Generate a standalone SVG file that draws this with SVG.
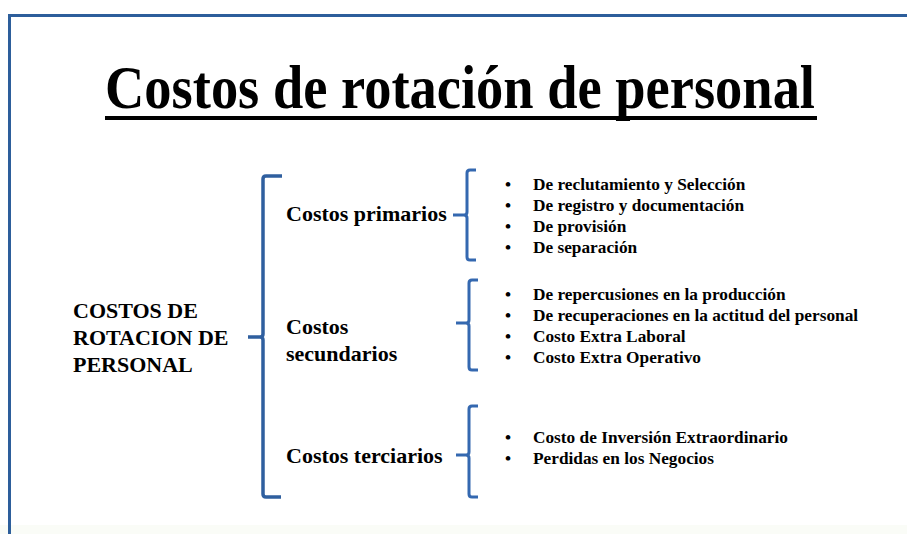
<svg xmlns="http://www.w3.org/2000/svg" width="907" height="534" viewBox="0 0 907 534">
<style>
.t{font-family:"Liberation Serif","Times New Roman",serif;font-weight:bold;fill:#000}
.m{font-size:22px}
.b{font-size:17.3px}
.br{fill:none;stroke:#3468b0;stroke-width:3;stroke-linejoin:round;stroke-linecap:butt}
.big{stroke:#2f5f9f;stroke-width:3.5}
</style>
<rect x="0" y="0" width="907" height="534" fill="#ffffff"/>
<rect x="0" y="525" width="907" height="9" fill="#fafcf7"/>
<g id="frame">
<path d="M9.5 534 V15.5 H907" fill="none" stroke="#2d5e9b" stroke-width="3"/>
</g>
<g id="title">
<text class="t" x="105" y="108" font-size="61" textLength="710" lengthAdjust="spacingAndGlyphs">Costos de rotación de personal</text>
<rect x="105" y="116" width="712" height="4" fill="#000"/>
</g>
<g id="root">
<text class="t m" x="73" y="318">COSTOS DE</text>
<text class="t m" x="73" y="345">ROTACION DE</text>
<text class="t m" x="73" y="372">PERSONAL</text>
</g>
<g id="primarios">
<text class="t m" x="286" y="221">Costos primarios</text>
</g>
<g id="secundarios">
<text class="t m" x="286" y="334">Costos</text>
<text class="t m" x="286" y="361">secundarios</text>
</g>
<g id="terciarios">
<text class="t m" x="286" y="463">Costos terciarios</text>
</g>
<g id="list-primarios">
<text class="t b" x="505" y="190">•</text><text class="t b" x="533" y="190">De reclutamiento y Selección</text>
<text class="t b" x="505" y="211">•</text><text class="t b" x="533" y="211">De registro y documentación</text>
<text class="t b" x="505" y="232">•</text><text class="t b" x="533" y="232">De provisión</text>
<text class="t b" x="505" y="253">•</text><text class="t b" x="533" y="253">De separación</text>
</g>
<g id="list-secundarios">
<text class="t b" x="505" y="300">•</text><text class="t b" x="533" y="300">De repercusiones en la producción</text>
<text class="t b" x="505" y="321">•</text><text class="t b" x="533" y="321">De recuperaciones en la actitud del personal</text>
<text class="t b" x="505" y="342">•</text><text class="t b" x="533" y="342">Costo Extra Laboral</text>
<text class="t b" x="505" y="363">•</text><text class="t b" x="533" y="363">Costo Extra Operativo</text>
</g>
<g id="list-terciarios">
<text class="t b" x="505" y="443">•</text><text class="t b" x="533" y="443">Costo de Inversión Extraordinario</text>
<text class="t b" x="505" y="464">•</text><text class="t b" x="533" y="464">Perdidas en los Negocios</text>
</g>
<g id="connectors">
<path class="br big" d="M282 176 H266 Q263 176 263 179 V334 Q263 337 260 337 H248 M260 337 Q263 337 263 340 V494 Q263 497 266 497 H281"/>
<path class="br" d="M476 170 H470 Q467 170 467 173 V212 Q467 215 464 215 H453 M464 215 Q467 215 467 218 V257 Q467 260 470 260 H476"/>
<path class="br" d="M478 280 H472 Q469 280 469 283 V320 Q469 323 466 323 H456 M466 323 Q469 323 469 326 V367 Q469 370 472 370 H478"/>
<path class="br" d="M478 406 H472 Q469 406 469 409 V452 Q469 455 466 455 H456 M466 455 Q469 455 469 458 V494 Q469 497 472 497 H478"/>
</g>
</svg>
